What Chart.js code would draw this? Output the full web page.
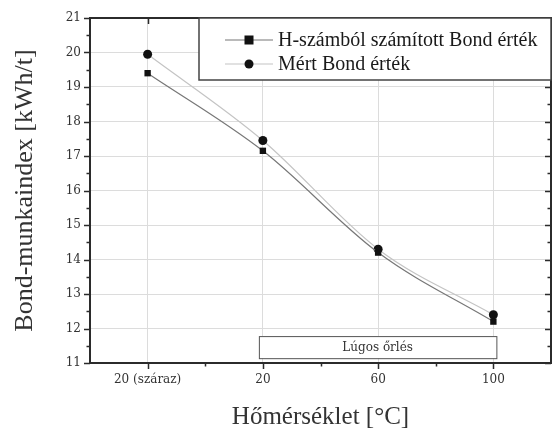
<!DOCTYPE html>
<html>
<head>
<meta charset="utf-8">
<script src="https://cdn.jsdelivr.net/npm/chart.js@4.4.1/dist/chart.umd.min.js"></script>
<style>
  html, body { margin: 0; padding: 0; background: #ffffff; }
  #wrap { width: 558px; height: 432px; position: relative; }
</style>
</head>
<body>
<div id="wrap"><canvas id="bondChart"></canvas></div>
<script>
// ================== DATOK ==================
const kategoriak = ['20 (száraz)', '20', '60', '100'];
const hSzambol = [19.4, 17.15, 14.2, 12.2];   // H-számból számított Bond érték
const mertBond = [19.95, 17.45, 14.3, 12.4];  // Mért Bond érték
const yTicks = [11, 12, 13, 14, 15, 16, 17, 18, 19, 20, 21];
const lugosTartomany = [1, 3];                // Lúgos őrlés: kategória-index tartomány
const lugosCimke = 'Lúgos őrlés';

const SERIF = '"Liberation Serif", "Times New Roman", serif';
const TICKFONT = '"DejaVu Serif", serif';
const AXIS = '#2b2b2b';

function toXY(arr) {
    return arr.map((v, i) => ({ x: i, y: v }));
}

// ================== KERET, KIS OSZTÁSOK, JELMAGYARÁZAT ==================
const keretPlugin = {
    id: 'keret',
    afterDatasetsDraw(chart) {
        const { ctx, chartArea: a, scales: { x, y } } = chart;
        ctx.save();

        // Lúgos őrlés doboz
        const bx1 = x.getPixelForValue(lugosTartomany[0]) - 4;
        const bx2 = x.getPixelForValue(lugosTartomany[1]) + 3;
        const by1 = y.getPixelForValue(11.78);
        const by2 = y.getPixelForValue(11.14);
        ctx.fillStyle = '#ffffff';
        ctx.fillRect(bx1, by1, bx2 - bx1, by2 - by1);
        ctx.strokeStyle = '#555';
        ctx.lineWidth = 1;
        ctx.strokeRect(bx1 + 0.5, by1 + 0.5, bx2 - bx1, by2 - by1);
        ctx.fillStyle = '#333';
        ctx.font = '12px ' + TICKFONT;
        ctx.textAlign = 'center';
        ctx.textBaseline = 'middle';
        ctx.fillText(lugosCimke, (bx1 + bx2) / 2, (by1 + by2) / 2 + 1);

        // Keret
        ctx.strokeStyle = AXIS;
        ctx.lineWidth = 2;
        ctx.strokeRect(a.left, a.top, a.right - a.left, a.bottom - a.top);

        // Y osztások (bal kifelé, jobb befelé)
        ctx.lineWidth = 1.5;
        for (let v = 11; v <= 21.001; v += 0.5) {
            const py = Math.round(y.getPixelForValue(v)) + 0.5;
            const major = Math.abs(v - Math.round(v)) < 0.01;
            const len = major ? 6 : 3.5;
            ctx.beginPath();
            ctx.moveTo(a.left - len, py); ctx.lineTo(a.left, py);
            ctx.moveTo(a.right, py); ctx.lineTo(a.right - len, py);
            ctx.stroke();
        }
        // X osztások (alul kifelé, felül befelé)
        for (let v = 0; v <= kategoriak.length - 1 + 0.001; v += 0.5) {
            const px = Math.round(x.getPixelForValue(v)) + 0.5;
            const major = Math.abs(v - Math.round(v)) < 0.01;
            const len = major ? 6 : 3.5;
            ctx.beginPath();
            ctx.moveTo(px, a.bottom); ctx.lineTo(px, a.bottom + len);
            ctx.moveTo(px, a.top); ctx.lineTo(px, a.top + len);
            ctx.stroke();
        }

        // Jelmagyarázat
        const lx1 = 199, ly1 = a.top, lx2 = a.right, ly2 = 80;
        ctx.fillStyle = '#ffffff';
        ctx.fillRect(lx1, ly1, lx2 - lx1, ly2 - ly1);
        ctx.strokeStyle = '#444';
        ctx.lineWidth = 1.5;
        ctx.strokeRect(lx1, ly1, lx2 - lx1, ly2 - ly1);
        chart.data.datasets.forEach((ds, i) => {
            const yy = 40 + i * 24;
            ctx.strokeStyle = ds.borderColor;
            ctx.lineWidth = 1.2;
            ctx.beginPath();
            ctx.moveTo(225, yy); ctx.lineTo(273, yy);
            ctx.stroke();
            ctx.fillStyle = ds.pointBackgroundColor;
            if (ds.pointStyle === 'rect') {
                ctx.fillRect(249 - 4.5, yy - 4.5, 9, 9);
            } else {
                ctx.beginPath();
                ctx.arc(249, yy, 4.5, 0, Math.PI * 2);
                ctx.fill();
            }
            ctx.fillStyle = '#1a1a1a';
            ctx.font = '20px ' + SERIF;
            ctx.textAlign = 'left';
            ctx.textBaseline = 'middle';
            ctx.fillText(ds.label, 278, yy + 1);
        });
        ctx.restore();
    }
};

// ================== GRAFIKON ==================
const ctx = document.getElementById('bondChart').getContext('2d');
new Chart(ctx, {
    type: 'scatter',
    data: {
        datasets: [
            {
                label: 'H-számból számított Bond érték',
                data: toXY(hSzambol),
                showLine: true,
                borderColor: '#777777',
                borderWidth: 1.2,
                cubicInterpolationMode: 'monotone',
                pointStyle: 'rect',
                pointRadius: 4.5,
                pointBackgroundColor: '#111',
                pointBorderColor: '#111',
                pointBorderWidth: 0
            },
            {
                label: 'Mért Bond érték',
                data: toXY(mertBond),
                showLine: true,
                borderColor: '#c4c4c4',
                borderWidth: 1.2,
                cubicInterpolationMode: 'monotone',
                pointStyle: 'circle',
                pointRadius: 4.5,
                pointBackgroundColor: '#111',
                pointBorderColor: '#111',
                pointBorderWidth: 0
            }
        ]
    },
    options: {
        responsive: true,
        maintainAspectRatio: false,
        animation: false,
        devicePixelRatio: 1,
        layout: { padding: { left: 0, right: 7, top: 18, bottom: 0 } },
        plugins: {
            legend: { display: false },
            tooltip: { enabled: false }
        },
        scales: {
            x: {
                type: 'linear',
                min: -0.5,
                max: kategoriak.length - 0.5,
                afterBuildTicks(scale) {
                    scale.ticks = kategoriak.map((c, i) => ({ value: i }));
                },
                afterFit(scale) { scale.height = 69; },
                grid: { color: '#dcdcdc', lineWidth: 1, drawTicks: false },
                border: { display: false },
                ticks: {
                    color: '#333',
                    padding: 10,
                    maxRotation: 0,
                    font: { family: TICKFONT, size: 12 },
                    callback: v => kategoriak[v] ?? ''
                },
                title: {
                    display: true,
                    text: 'Hőmérséklet [°C]',
                    color: '#333',
                    font: { family: SERIF, size: 25 },
                    padding: { top: 2, bottom: 0 }
                }
            },
            y: {
                min: yTicks[0],
                max: yTicks[yTicks.length - 1],
                afterBuildTicks(scale) {
                    scale.ticks = yTicks.map(v => ({ value: v }));
                },
                afterFit(scale) { scale.width = 90; },
                grid: { color: '#dcdcdc', lineWidth: 1, drawTicks: false },
                border: { display: false },
                ticks: {
                    color: '#333',
                    padding: 9,
                    font: { family: TICKFONT, size: 12 }
                },
                title: {
                    display: true,
                    text: 'Bond-munkaindex [kWh/t]',
                    color: '#333',
                    font: { family: SERIF, size: 26 },
                    padding: { top: 10, bottom: 4 }
                }
            }
        }
    },
    plugins: [keretPlugin]
});
</script>
</body>
</html>
